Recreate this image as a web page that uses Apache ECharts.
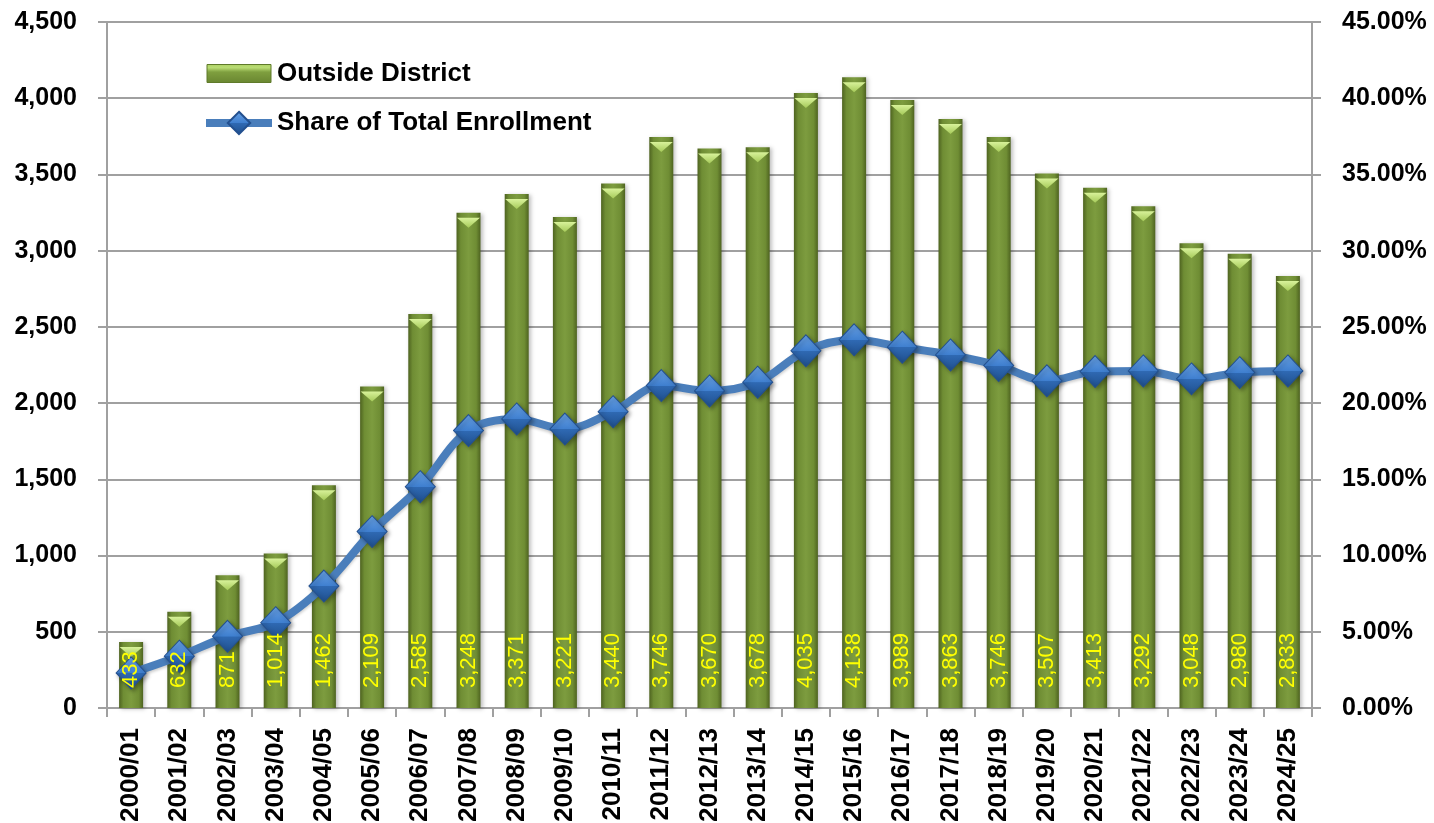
<!DOCTYPE html>
<html>
<head>
<meta charset="utf-8">
<script src="https://cdn.jsdelivr.net/npm/echarts@6/dist/echarts.min.js"></script>
<style>
html,body{margin:0;padding:0;background:#fff;}
#chart{width:1434px;height:823px;}
</style>
</head>
<body>
<div id="chart"></div>
<script>
const categories = ['2000/01','2001/02','2002/03','2003/04','2004/05','2005/06','2006/07','2007/08','2008/09','2009/10','2010/11','2011/12','2012/13','2013/14','2014/15','2015/16','2016/17','2017/18','2018/19','2019/20','2020/21','2021/22','2022/23','2023/24','2024/25'];
const outsideDistrict = [433,632,871,1014,1462,2109,2585,3248,3371,3221,3440,3746,3670,3678,4035,4138,3989,3863,3746,3507,3413,3292,3048,2980,2833];
const shareOfTotal = [0.023,0.034,0.047,0.056,0.080,0.1157,0.1452,0.182,0.1896,0.183,0.1944,0.2115,0.208,0.2137,0.2343,0.2415,0.2367,0.2316,0.2246,0.2146,0.2207,0.2211,0.2159,0.2200,0.2211];
const leftTicks = {min:0, max:4500, interval:500};
const rightTicks = {min:0, max:0.45, interval:0.05};

const FONT = '"Liberation Sans Narrow","Arial Narrow","Liberation Sans",Arial,sans-serif';
const chart = echarts.init(document.getElementById('chart'), null, {renderer:'canvas'});
const barGrad = new echarts.graphic.LinearGradient(0,0,1,0,[
  {offset:0,color:'#4e6320'},
  {offset:0.18,color:'#6f8d34'},
  {offset:0.5,color:'#7d9c3f'},
  {offset:0.82,color:'#6f8d34'},
  {offset:1,color:'#4e6320'}
]);
const markerGrad = new echarts.graphic.LinearGradient(0,0,0,1,[
  {offset:0,color:'#6aa3e6'},
  {offset:0.5,color:'#3f7fcf'},
  {offset:0.51,color:'#2f69b3'},
  {offset:1,color:'#1f4f8c'}
]);
const legendBarGrad = new echarts.graphic.LinearGradient(0,0,0,1,[
  {offset:0,color:'#9cc050'},
  {offset:0.3,color:'#b9dc74'},
  {offset:0.45,color:'#7f9f3f'},
  {offset:1,color:'#5f7a2a'}
]);
const axisLabelStyle = {fontFamily:FONT, fontWeight:'bold', fontSize:25, color:'#000'};
const gray = '#a0a0a0';

chart.setOption({
  animation:false,
  backgroundColor:'#fff',
  grid:{left:107, right:122, top:22, bottom:115, containLabel:false, outerBoundsMode:'none'},
  legend:{
    orient:'vertical', left:202, top:59, itemGap:21, padding:0,
    itemWidth:66, itemHeight:28,
    textStyle:{fontFamily:FONT, fontWeight:'bold', fontSize:26, color:'#000', lineHeight:28},
    lineStyle:{width:8, color:'#4a7ebb'},
    data:[
      {name:'Outside District', icon:'path://M0,0 L0,0 M0,5 L64,5 L64,23 L0,23 Z M64,28 L64,28', itemStyle:{color:legendBarGrad, borderColor:'#5f7a2a', borderWidth:1}},
      {name:'Share of Total Enrollment'}
    ]
  },
  xAxis:{
    type:'category', data:categories,
    axisLine:{show:true, lineStyle:{color:gray, width:2}},
    axisTick:{show:true, length:9, lineStyle:{color:gray, width:2}},
    axisLabel:{rotate:90, margin:20, interval:0, fontSize:26, fontFamily:FONT, fontWeight:'bold', color:'#000'},
    splitLine:{show:false}
  },
  yAxis:[
    {
      type:'value', min:leftTicks.min, max:leftTicks.max, interval:leftTicks.interval, position:'left',
      axisLine:{show:true, lineStyle:{color:gray, width:2}},
      axisTick:{show:true, length:9, lineStyle:{color:gray, width:2}},
      axisLabel:Object.assign({margin:30, formatter:v=>v.toLocaleString('en-US')}, axisLabelStyle),
      splitLine:{show:true, lineStyle:{color:gray, width:2}}
    },
    {
      type:'value', min:rightTicks.min, max:rightTicks.max, interval:rightTicks.interval, position:'right',
      axisLine:{show:true, lineStyle:{color:gray, width:2}},
      axisTick:{show:true, length:9, lineStyle:{color:gray, width:2}},
      axisLabel:Object.assign({margin:30, formatter:v=>(v*100).toFixed(2)+'%'}, axisLabelStyle),
      splitLine:{show:false}
    }
  ],
  series:[
    {
      name:'Outside District', type:'bar', data:outsideDistrict, barWidth:24, barGap:'-100%', yAxisIndex:0, z:2,
      itemStyle:{color:barGrad, shadowColor:'rgba(0,0,0,0.25)', shadowBlur:4, shadowOffsetX:2, shadowOffsetY:1}
    },
    {
      name:'Outside District', type:'pictorialBar', data:outsideDistrict, yAxisIndex:0, z:3,
      symbol:'path://M0,0 L20,0 L10,8 Z', symbolSize:[23,10], symbolPosition:'end', symbolOffset:[0,'50%'],
      itemStyle:{color:new echarts.graphic.LinearGradient(0,0,0,1,[{offset:0,color:'#d8f29a'},{offset:1,color:'#a6ca5a'}])},
      legendHoverLink:false, silent:true
    },
    {
      name:'Share of Total Enrollment', type:'line', data:shareOfTotal, yAxisIndex:1, z:5,
      smooth:0.35,
      lineStyle:{color:'#4a7ebb', width:8, shadowColor:'rgba(0,0,0,0.2)', shadowBlur:3, shadowOffsetY:2},
      symbol:'diamond', symbolSize:[30,32],
      itemStyle:{color:markerGrad, borderColor:'#23508f', borderWidth:1, shadowColor:'rgba(0,0,0,0.35)', shadowBlur:4, shadowOffsetX:2, shadowOffsetY:2}
    },
    {
      name:'Outside District labels', type:'bar', data:outsideDistrict, barWidth:24, barGap:'-100%', yAxisIndex:0, z:8,
      itemStyle:{color:'rgba(0,0,0,0)'}, silent:true,
      label:{show:true, position:'insideBottom', rotate:90, align:'left', verticalAlign:'middle', distance:20,
        formatter:p=>p.value.toLocaleString('en-US'),
        fontFamily:FONT, fontSize:22, color:'#ffff00'}
    }
  ]
});
</script>
</body>
</html>
